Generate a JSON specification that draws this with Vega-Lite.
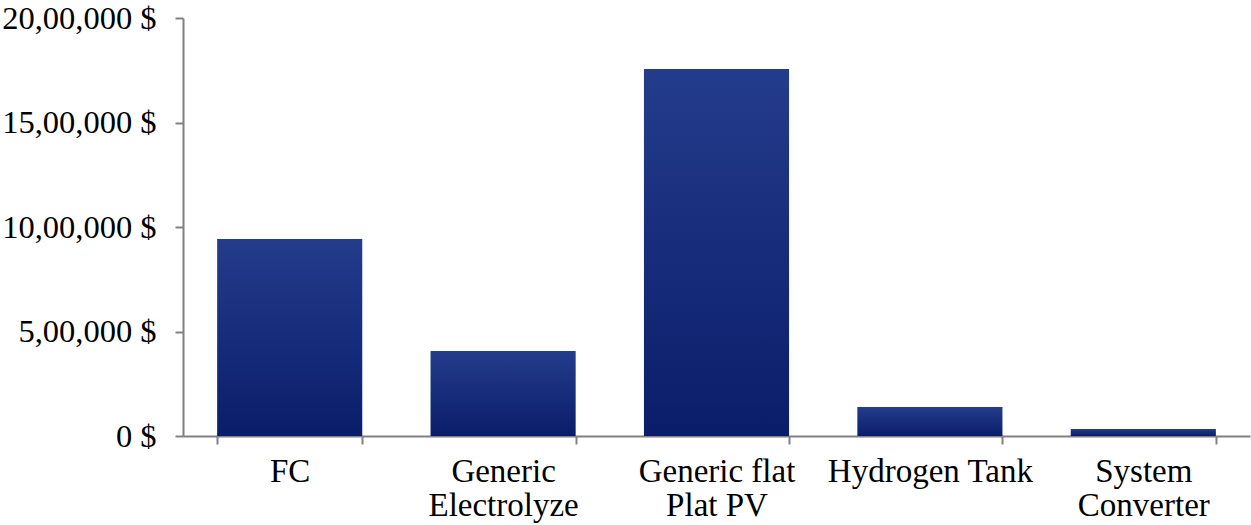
{
  "$schema": "https://vega.github.io/schema/vega-lite/v6.json",
  "width": 1067,
  "height": 418,
  "autosize": "none",
  "padding": {"left": 183, "top": 18, "right": 1, "bottom": 89},
  "background": "white",
  "config": {
    "view": {"stroke": null},
    "font": "Liberation Serif",
    "axis": {"labelFont": "Liberation Serif", "labelColor": "#000000", "grid": false, "domainColor": "#808080", "tickColor": "#808080", "domainWidth": 2, "tickWidth": 2, "title": null, "labelLimit": 0}
  },
  "data": {
    "values": [
      {"component": "FC", "cost": 942600},
      {"component": "Generic Electrolyze", "cost": 406700},
      {"component": "Generic flat Plat PV", "cost": 1756000},
      {"component": "Hydrogen Tank", "cost": 138800},
      {"component": "System Converter", "cost": 33500}
    ]
  },
  "mark": {
    "type": "bar",
    "color": {
      "gradient": "linear",
      "x1": 0, "y1": 0, "x2": 0, "y2": 1,
      "stops": [
        {"offset": 0, "color": "#243c8c"},
        {"offset": 1, "color": "#0a1d6a"}
      ]
    }
  },
  "encoding": {
    "x": {
      "field": "component",
      "type": "nominal",
      "sort": null,
      "scale": {"paddingInner": 0.32, "paddingOuter": 0.16},
      "axis": {
        "labelAngle": 0,
        "labelFontSize": 33,
        "labelLineHeight": 34,
        "labelPadding": 11,
        "tickSize": 8,
        "tickBand": "extent",
        "labelLimit": 0,
        "labelExpr": "datum.label == 'Generic Electrolyze' ? ['Generic', 'Electrolyze'] : datum.label == 'Generic flat Plat PV' ? ['Generic flat', 'Plat PV'] : datum.label == 'System Converter' ? ['System', 'Converter'] : datum.label"
      }
    },
    "y": {
      "field": "cost",
      "type": "quantitative",
      "scale": {"domain": [0, 2000000], "nice": false},
      "axis": {
        "values": [0, 500000, 1000000, 1500000, 2000000],
        "labelFontSize": 32.5,
        "labelPadding": 19,
        "tickSize": 8,
        "labelLimit": 0,
        "labelExpr": "datum.value == 0 ? '0 $' : (datum.value / 100000) + ',00,000 $'"
      }
    }
  }
}
